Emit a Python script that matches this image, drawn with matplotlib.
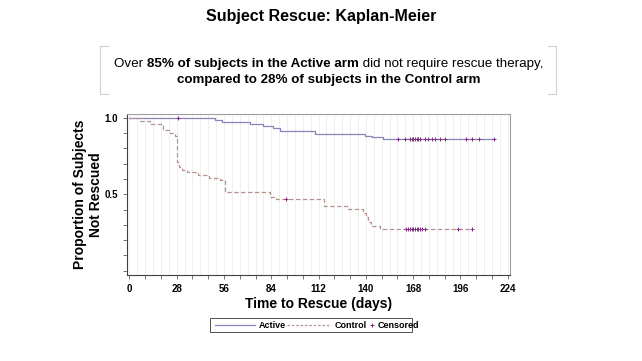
import numpy as np
import matplotlib
matplotlib.use('Agg')
import matplotlib.pyplot as plt
from matplotlib.lines import Line2D
from matplotlib.patches import Rectangle
from matplotlib.ticker import MultipleLocator

plt.rcParams['font.family'] = ['Liberation Sans', 'DejaVu Sans']

# Kaplan-Meier step data (days, proportion not rescued)
active_t = [0, 50.7, 54.6, 71.4, 79.3, 85, 89, 110, 139.5, 143.4, 150.3, 216]
active_s = [1.0, 0.987, 0.972, 0.962, 0.948, 0.935, 0.917, 0.898, 0.885, 0.875, 0.862, 0.862]
active_cens = [29, 159, 163, 166, 167, 168, 169, 170, 171, 172, 175, 177, 179,
               181, 184, 187, 199.5, 203, 207, 216]

control_t = [0, 6.5, 12, 20, 24, 27, 28.4, 29.5, 31, 34, 40.7, 47, 53.6, 56.6,
             83, 87, 115.5, 129.6, 138.5, 140, 141.5, 143, 148.5, 203]
control_s = [1.0, 0.98, 0.958, 0.92, 0.9, 0.88, 0.714, 0.68, 0.66, 0.648, 0.627,
             0.605, 0.594, 0.515, 0.485, 0.467, 0.423, 0.402, 0.38, 0.35, 0.32,
             0.29, 0.272, 0.272]
control_cens = [93, 164, 165, 166, 167, 168, 169, 170, 171, 172, 173, 175, 194.5, 203]

legend_labels = ['Active', 'Control', 'Censored']

col_active = '#8686bd'
col_control = '#b89090'
col_cens = '#7e2f7e'

W, H = 642, 361
fig = plt.figure(figsize=(W / 100, H / 100), dpi=100)

# title
fig.text(0.5, 1 - 16 / H, 'Subject Rescue: Kaplan-Meier', ha='center', va='center',
         fontsize=11.5, fontweight='bold')

# bracket box around the message
bx0, bx1, by0, by1 = 100 / W, 556 / W, 1 - 46 / H, 1 - 94 / H
arm = 8 / W
for xs, ys in [([bx0 + arm, bx0, bx0, bx0 + arm], [by0, by0, by1, by1]),
               ([bx1 - arm, bx1, bx1, bx1 - arm], [by0, by0, by1, by1])]:
    fig.add_artist(Line2D(xs, ys, color='#d0d0d0', lw=0.8))


def runs(parts, y, fs=9.6):
    # draw a line made of normal/bold pieces, centred on the figure
    r = fig.canvas.get_renderer()
    objs = [fig.text(0, y, s, fontsize=fs, fontweight=w, va='center') for s, w in parts]
    widths = [o.get_window_extent(r).width for o in objs]
    x = (W - sum(widths)) / 2 + 8
    for o, w in zip(objs, widths):
        o.set_x(x / W)
        x += w


runs([('Over ', 'normal'), ('85% of subjects in the Active arm', 'bold'),
      (' did not require rescue therapy,', 'normal')], 1 - 64 / H)
runs([('compared to 28% of subjects in the Control arm', 'bold')], 1 - 80 / H)

ax = fig.add_axes([127 / W, 1 - 275 / H, (510 - 127) / W, (275 - 114) / H])
ax.set_xlim(-1.4, 225.3)
ax.set_ylim(-0.029, 1.026)

for g in np.arange(0, 225, 224 / 48):
    ax.axvline(g, color='#ececec', lw=0.6, zorder=0)

ax.step(active_t, active_s, where='post', color=col_active, lw=0.9)
ax.step(control_t, control_s, where='post', color=col_control, lw=0.9,
        dashes=(3.5, 2))
a_s = [active_s[np.searchsorted(active_t, c, side='right') - 1] for c in active_cens]
c_s = [control_s[np.searchsorted(control_t, c, side='right') - 1] for c in control_cens]
ax.plot(active_cens, a_s, '+', color=col_cens, ms=3.5, mew=0.7)
ax.plot(control_cens, c_s, '+', color=col_cens, ms=3.5, mew=0.7)

ax.set_xticks(np.arange(0, 225, 28))
ax.xaxis.set_minor_locator(MultipleLocator(28 / 3))
yt = np.arange(0, 1.01, 0.1)
ax.set_yticks(yt)
ax.set_yticklabels(['1.0' if abs(v - 1) < 1e-6 else '0.5' if abs(v - 0.5) < 1e-6 else ''
                    for v in yt])
ax.tick_params(which='both', direction='out', length=3, width=0.6, color='#606060',
               labelsize=7)
for lab in ax.get_xticklabels() + ax.get_yticklabels():
    lab.set_fontweight('bold')
for sp in ax.spines.values():
    sp.set_color('#a0a0a0')
    sp.set_linewidth(0.8)
ax.spines['left'].set_color('#404040')
ax.spines['bottom'].set_color('#404040')

ax.set_xlabel('Time to Rescue (days)', fontsize=10, fontweight='bold', labelpad=2)
ax.set_ylabel('Proportion of Subjects\nNot Rescued', fontsize=10, fontweight='bold',
              labelpad=1)

# legend drawn by hand so the sample lengths match the reference
def fx(px):
    return px / W


def fy(py):
    return 1 - py / H


fig.add_artist(Rectangle((fx(210), fy(332)), fx(202), 14 / H, fill=False,
                         ec='#505050', lw=0.7))
ly = fy(325)
fig.add_artist(Line2D([fx(215), fx(255)], [ly, ly], color=col_active, lw=0.9))
fig.text(fx(259), ly, legend_labels[0], fontsize=6.5, fontweight='bold', va='center')
fig.add_artist(Line2D([fx(287), fx(331)], [ly, ly], color=col_control, lw=0.9,
                      dashes=(2, 1.5)))
fig.text(fx(335), ly, legend_labels[1], fontsize=6.5, fontweight='bold', va='center')
fig.add_artist(Line2D([fx(372)], [ly], color=col_cens, marker='+', ls='none',
                      ms=3.5, mew=0.7))
fig.text(fx(378), ly, legend_labels[2], fontsize=6.5, fontweight='bold', va='center')

fig.savefig('out.png', dpi=100)
